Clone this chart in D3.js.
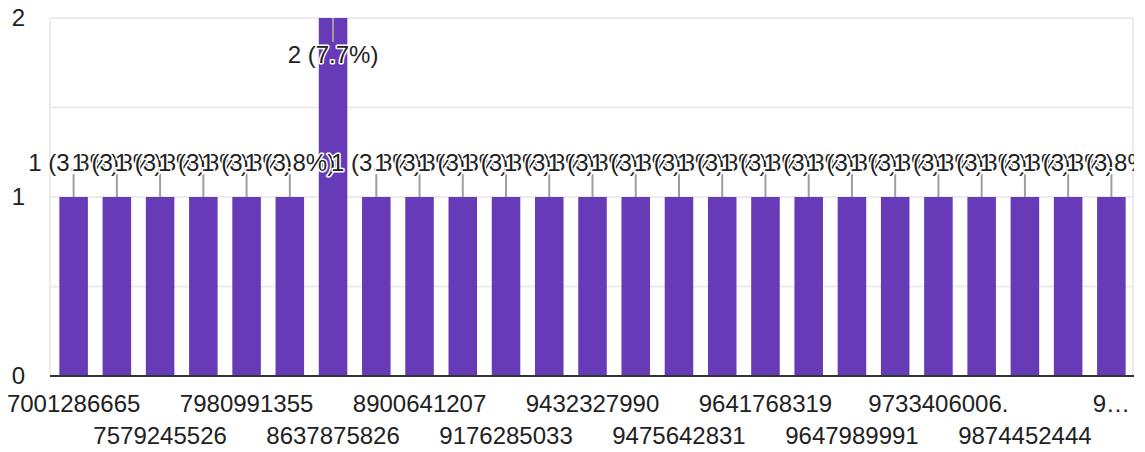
<!DOCTYPE html>
<html>
<head>
<meta charset="utf-8">
<script src="https://cdn.jsdelivr.net/npm/d3@7"></script>
<style>
  body { margin: 0; background: #fff; }
  text { font-family: "Liberation Sans", Arial, sans-serif; fill: #212121; }
</style>
</head>
<body>
<div id="graph"></div>
<script>

// tick labels (only every other category gets a label in the reference)
var tickLabels = ["7001286665", "", "7579245526", "", "7980991355", "", "8637875826", "",
  "8900641207", "", "9176285033", "", "9432327990", "", "9475642831", "",
  "9641768319", "", "9647989991", "", "9733406006.", "", "9874452444", "", "9…"];

// response counts per category
var counts = [1, 1, 1, 1, 1, 1, 2, 1, 1, 1, 1, 1, 1, 1, 1, 1, 1, 1, 1, 1, 1, 1, 1, 1, 1];

var yTicks = [0, 1, 2];

var width = 1145, height = 452;
var total = d3.sum(counts);

var svg = d3.select("#graph")
  .append("svg")
    .attr("width", width)
    .attr("height", height);

var x = d3.scaleBand()
  .domain(d3.range(counts.length))
  .range([52, 1133])
  .paddingInner(0.34)
  .paddingOuter(0.17);

var y = d3.scaleLinear()
  .domain([0, 2])
  .range([376, 18]);

// clip for the annotations on the right side
svg.append("clipPath")
  .attr("id", "plot-clip")
  .append("rect")
    .attr("x", 0).attr("y", 0)
    .attr("width", 1134).attr("height", height);

// grid lines
svg.append("g")
  .selectAll("line")
  .data([0.5, 1, 1.5, 2])
  .enter().append("line")
    .attr("x1", 50).attr("x2", 1134)
    .attr("y1", function(d) { return y(d); })
    .attr("y2", function(d) { return y(d); })
    .attr("stroke", "#ebebeb")
    .attr("stroke-width", 2);

// side frame lines
svg.append("line")
  .attr("x1", 50).attr("x2", 50)
  .attr("y1", y(2)).attr("y2", y(0))
  .attr("stroke", "#ebebeb").attr("stroke-width", 2);
svg.append("line")
  .attr("x1", 1133).attr("x2", 1133)
  .attr("y1", y(2)).attr("y2", y(0))
  .attr("stroke", "#ebebeb").attr("stroke-width", 2);

// y axis labels
var yAxis = svg.append("g")
  .attr("transform", "translate(25,0)")
  .call(d3.axisLeft(y).tickValues(yTicks).tickSize(0).tickPadding(0).tickFormat(d3.format("d")));
yAxis.select(".domain").remove();
yAxis.selectAll("text")
  .attr("font-size", 24)
  .style("font-family", "'Liberation Sans', Arial, sans-serif")
  .attr("fill", "#212121");

// bars
svg.append("g")
  .selectAll("rect")
  .data(counts)
  .enter().append("rect")
    .attr("x", function(d, i) { return x(i); })
    .attr("y", function(d) { return y(d); })
    .attr("width", x.bandwidth())
    .attr("height", function(d) { return y(0) - y(d); })
    .attr("fill", "#673ab7");

// baseline
svg.append("line")
  .attr("x1", 50).attr("x2", 1134)
  .attr("y1", y(0)).attr("y2", y(0))
  .attr("stroke", "#333").attr("stroke-width", 2);

// x axis labels, staggered on two rows
var xAxis = svg.append("g")
  .attr("transform", "translate(0," + y(0) + ")")
  .call(d3.axisBottom(x)
    .tickValues(d3.range(counts.length).filter(function(i) { return tickLabels[i] !== ""; }))
    .tickSize(0)
    .tickFormat(function(i) { return tickLabels[i]; }));
xAxis.select(".domain").remove();
xAxis.selectAll("text")
  .attr("font-size", 24)
  .style("font-family", "'Liberation Sans', Arial, sans-serif")
  .attr("fill", "#212121")
  .attr("dy", null)
  .attr("y", function(i) { return (i / 2) % 2 === 0 ? 36 : 68; });

// annotations: leader line + label with white halo
var ann = svg.append("g").attr("clip-path", "url(#plot-clip)");

ann.selectAll("line")
  .data(counts)
  .enter().append("line")
    .attr("x1", function(d, i) { return x(i) + x.bandwidth() / 2; })
    .attr("x2", function(d, i) { return x(i) + x.bandwidth() / 2; })
    .attr("y1", function(d) { return d === 2 ? y(d) : y(d) - 23; })
    .attr("y2", function(d) { return d === 2 ? y(d) + 24 : y(d); })
    .attr("stroke", "#9e9e9e")
    .attr("stroke-width", 2);

ann.selectAll("text")
  .data(counts)
  .enter().append("text")
    .attr("x", function(d, i) { return x(i) + x.bandwidth() / 2; })
    .attr("y", function(d) { return d === 2 ? y(d) + 45 : y(d) - 26; })
    .attr("text-anchor", "middle")
    .attr("font-size", 24)
    .attr("stroke", "#fff")
    .attr("stroke-width", 3)
    .attr("stroke-linejoin", "round")
    .attr("paint-order", "stroke")
    .text(function(d) { return d + " (" + d3.format(".1f")(d / total * 100) + "%)"; });

</script>
</body>
</html>
